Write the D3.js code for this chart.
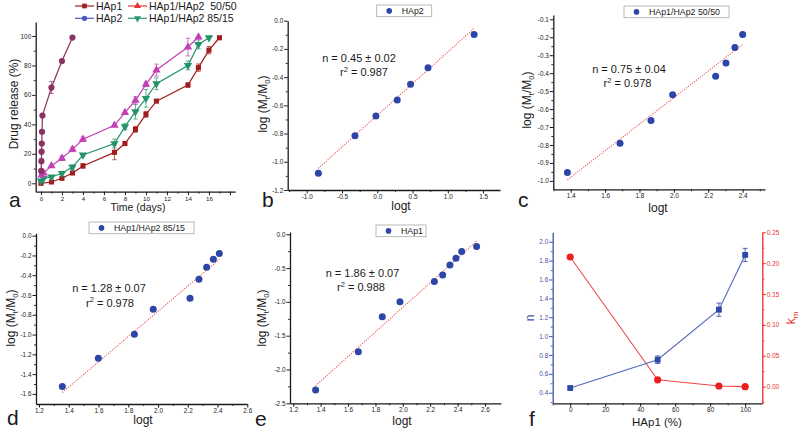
<!DOCTYPE html>
<html><head><meta charset="utf-8">
<script src="https://cdn.jsdelivr.net/npm/d3@7/dist/d3.min.js"></script>
<style>body{margin:0;background:#fff;} svg{display:block;}</style>
</head><body><svg id="chart" width="800" height="439"></svg>
<script>
const FONT = "'Liberation Sans', Arial, Helvetica, sans-serif";

// ---------- Panel a : drug release ----------
const seriesNames = ["HAp1", "HAp2", "HAp1/HAp2  50/50", "HAp1/HAp2 85/15"];
const hap1Days = [0,1,2,3,4,7,8,9,10,11,14,15,16,17];
const hap1Release = [0,0.9,3.4,7,11.8,21,27,36.6,46.8,55.8,66.7,78.5,90.4,98.8];
const hap1Err = [0.5,0.5,0.8,0.8,1.5,5,1,2,2,0.5,1.5,2.5,2.5,0.5];
const hap2Days = [0.02,0.04,0.06,0.08,0.1,0.14,1,2,3];
const hap2Release = [8.4,15,21.5,27,35,46,65,83,98.9];
const hap2Err = [1,1.5,1,1,1,1,4,1,1];
const mix50Days = [0.05,0.25,1,2,3,4,7,8,9,10,11,14,15];
const mix50Release = [5.5,7,11.8,17,23,29.9,39.4,48,56.3,67.2,76.9,92.5,99.3];
const mix50Err = [1,1,1,1.5,1.5,1.5,1,1,2.5,1.5,4,6,1];
const mix85Days = [0,0.25,1,2,3,4,7,8,9,10,11,14,15,16];
const mix85Release = [1.6,3.4,4.3,6.8,11,19.2,27,38.5,48.6,57.7,67.6,80,94.3,98.8];
const mix85Err = [0.5,0.5,0.5,1,1.5,1,3,2,5,6,4,3,3,0.5];
const aXTicks = [0,2,4,6,8,10,12,14,16,18];
const aXMinor = [1,3,5,7,9,11,13,15,17];
const aYTicks = [0,20,40,60,80,100];
const aYMinor = [10,30,50,70,90];

// ---------- Panels b–e : log(Mt/M0) vs logt ----------
const bLogt = [-0.835,-0.316,-0.019,0.283,0.472,0.72,1.373];
const bLogM = [-1.082,-0.815,-0.676,-0.562,-0.451,-0.333,-0.097];
const bFitX = [-0.835,1.373], bFitY = [-1.046,-0.054];
const cLogt = [1.381,1.687,1.867,1.993,2.243,2.303,2.355,2.4];
const cLogM = [-0.953,-0.791,-0.664,-0.520,-0.417,-0.343,-0.257,-0.184];
const cFitX = [1.381,2.4], cFitY = [-0.994,-0.24];
const dLogt = [1.357,1.599,1.841,1.968,2.215,2.275,2.327,2.372,2.412];
const dLogM = [-1.526,-1.239,-0.997,-0.744,-0.633,-0.441,-0.320,-0.239,-0.179];
const dFitX = [1.357,2.412], dFitY = [-1.586,-0.239];
const eLogt = [1.363,1.675,1.850,1.979,2.230,2.291,2.344,2.388,2.430,2.539];
const eLogM = [-2.303,-1.736,-1.218,-0.996,-0.700,-0.602,-0.454,-0.355,-0.256,-0.182];
const eFitX = [1.363,2.539], eFitY = [-2.239,-0.099];
const fitLabels = ["n = 0.45 ± 0.02","n = 0.75 ± 0.04","n = 1.28 ± 0.07","n = 1.86 ± 0.07"];
const r2Labels = ["0.987","0.978","0.978","0.988"];
const legendLabels = ["HAp2","HAp1/HAp2 50/50","HAp1/HAp2 85/15","HAp1"];
const bXTicks = [-1,-0.5,0,0.5,1,1.5], bXMinor = [-1.25,-0.75,-0.25,0.25,0.75,1.25];
const bYTicks = [0,-0.2,-0.4,-0.6,-0.8,-1.0,-1.2], bYMinor = [-0.1,-0.3,-0.5,-0.7,-0.9,-1.1];
const cXTicks = [1.4,1.6,1.8,2.0,2.2,2.4], cXMinor = [1.3,1.5,1.7,1.9,2.1,2.3,2.5];
const cYTicks = [-0.1,-0.2,-0.3,-0.4,-0.5,-0.6,-0.7,-0.8,-0.9,-1.0], cYMinor = [-0.15,-0.25,-0.35,-0.45,-0.55,-0.65,-0.75,-0.85,-0.95];
const dXTicks = [1.2,1.4,1.6,1.8,2.0,2.2,2.4,2.6], dXMinor = [1.3,1.5,1.7,1.9,2.1,2.3,2.5];
const dYTicks = [0,-0.2,-0.4,-0.6,-0.8,-1.0,-1.2,-1.4,-1.6], dYMinor = [-0.1,-0.3,-0.5,-0.7,-0.9,-1.1,-1.3,-1.5];
const eXTicks = [1.2,1.4,1.6,1.8,2.0,2.2,2.4,2.6], eXMinor = [1.3,1.5,1.7,1.9,2.1,2.3,2.5];
const eYTicks = [0,-0.5,-1.0,-1.5,-2.0,-2.5], eYMinor = [-0.25,-0.75,-1.25,-1.75,-2.25];

// ---------- Panel f ----------
const fHAp1 = [0,50,85,100];
const fN = [0.45,0.75,1.28,1.86];
const fNErr = [0.01,0.04,0.07,0.07];
const fKm = [0.21,0.011,0.001,0.0];
const fXTicks = [0,20,40,60,80,100], fXMinor = [-10,10,30,50,70,90];
const fNTicks = [0.4,0.6,0.8,1.0,1.2,1.4,1.6,1.8,2.0], fNMinor = [0.3,0.5,0.7,0.9,1.1,1.3,1.5,1.7,1.9];
const fKTicks = [0,0.05,0.10,0.15,0.20,0.25], fKMinor = [-0.025,0.025,0.075,0.125,0.175,0.225];

const svg = d3.select('#chart');
const hy = s => s.replace('\u2212','-');
const f1 = d => hy(d3.format('.1f')(d));

function axis(g, scale, orient, pos, majors, minors, fmt, color, fs) {
  const gen = orient === 'bottom' ? d3.axisBottom : orient === 'left' ? d3.axisLeft : d3.axisRight;
  const tr = orient === 'bottom' ? `translate(0,${pos})` : `translate(${pos},0)`;
  const m = g.append('g').attr('transform', tr)
    .call(gen(scale).tickValues(minors).tickSize(2).tickSizeOuter(0).tickFormat(''));
  m.select('.domain').remove();
  m.selectAll('line').attr('stroke', color).attr('stroke-width', 0.9);
  const M = g.append('g').attr('transform', tr)
    .call(gen(scale).tickValues(majors).tickSize(3.5).tickSizeOuter(0).tickPadding(1).tickFormat(fmt));
  M.selectAll('line').attr('stroke', color).attr('stroke-width', 1);
  M.select('.domain').attr('stroke', color).attr('stroke-width', 1.3);
  M.selectAll('text').attr('fill', color).attr('font-size', fs).attr('font-family', FONT);
}

function txt(x, y, s, size, opts = {}) {
  return svg.append('text').attr('x', x).attr('y', y).text(s)
    .attr('font-family', FONT).attr('font-size', size)
    .attr('fill', opts.fill || '#1a1a1a')
    .attr('text-anchor', opts.anchor || 'start')
    .style('white-space', 'pre');
}

function logLabel(cx, cy, size) {
  const t = svg.append('text').attr('transform', `translate(${cx},${cy}) rotate(-90)`)
    .attr('text-anchor', 'middle').attr('dy', '0.35em')
    .attr('font-family', FONT).attr('font-size', size).attr('fill', '#1a1a1a');
  t.append('tspan').text('log (M');
  t.append('tspan').text('t').attr('font-size', size * 0.65).attr('dy', 3);
  t.append('tspan').text('/M').attr('dy', -3);
  t.append('tspan').text('0').attr('font-size', size * 0.65).attr('dy', 3);
  t.append('tspan').text(')').attr('dy', -3);
}

// ================= Panel a =================
{
  const g = svg.append('g');
  const x = d3.scaleLinear().domain([-0.5, 18.5]).range([35.7, 235.2]);
  const y = d3.scaleLinear().domain([-5.7, 109.5]).range([191.7, 22]);
  axis(g, x, 'bottom', 191.7, aXTicks, aXMinor, d => d <= 16 ? d : '', '#1a1a1a', 6.2);
  axis(g, y, 'left', 35.7, aYTicks, aYMinor, d => d, '#1a1a1a', 6.4);
  const series = [
    {t: hap1Days, v: hap1Release, e: hap1Err, c: '#a11d1d', sym: d3.symbolSquare, size: 26, rot: 0},
    {t: mix85Days, v: mix85Release, e: mix85Err, c: '#22936a', sym: d3.symbolTriangle, size: 30, rot: 180},
    {t: mix50Days, v: mix50Release, e: mix50Err, c: '#c23fb4', sym: d3.symbolTriangle, size: 30, rot: 0},
    {t: hap2Days, v: hap2Release, e: hap2Err, c: '#8b3262', sym: d3.symbolCircle, size: 30, rot: 0},
  ];
  const line = d3.line().x(d => x(d[0])).y(d => y(d[1]));
  series.forEach(s => {
    const pts = s.t.map((t, i) => [t, s.v[i], s.e[i]]);
    g.append('path').attr('d', line(pts)).attr('fill', 'none').attr('stroke', s.c).attr('stroke-width', 1.2);
    const eb = g.append('g').attr('stroke', s.c).attr('stroke-width', 0.9).attr('opacity', 0.8);
    pts.forEach(p => {
      if (p[2] < 1.2) return;
      const X = x(p[0]);
      eb.append('line').attr('x1', X).attr('x2', X).attr('y1', y(p[1] - p[2])).attr('y2', y(p[1] + p[2]));
      [p[1] - p[2], p[1] + p[2]].forEach(v => eb.append('line').attr('x1', X - 2.2).attr('x2', X + 2.2).attr('y1', y(v)).attr('y2', y(v)));
    });
    g.selectAll(null).data(pts).enter().append('path')
      .attr('d', d3.symbol().type(s.sym).size(s.size))
      .attr('transform', d => `translate(${x(d[0])},${y(d[1])}) rotate(${s.rot})`)
      .attr('fill', s.c);
  });
  // legend
  const leg = [
    {name: seriesNames[0], c: '#a11d1d', sym: d3.symbolSquare, rot: 0, x0: 75, yy: 6},
    {name: seriesNames[1], c: '#4a58c4', sym: d3.symbolCircle, rot: 0, x0: 75, yy: 18.3},
    {name: seriesNames[2], c: '#e83434', sym: d3.symbolTriangle, rot: 0, x0: 128, yy: 6},
    {name: seriesNames[3], c: '#2a9a6e', sym: d3.symbolTriangle, rot: 180, x0: 128, yy: 18.3},
  ];
  leg.forEach(l => {
    svg.append('line').attr('x1', l.x0).attr('x2', l.x0 + 19).attr('y1', l.yy).attr('y2', l.yy).attr('stroke', l.c).attr('stroke-width', 1.2);
    svg.append('path').attr('d', d3.symbol().type(l.sym).size(22)()).attr('transform', `translate(${l.x0 + 9.5},${l.yy}) rotate(${l.rot})`).attr('fill', l.c);
    txt(l.x0 + 21, l.yy + 3.6, l.name, 10.5);
  });
  svg.append('text').attr('transform', 'translate(14,104) rotate(-90)').attr('text-anchor', 'middle').attr('dy', '0.35em')
    .attr('font-family', FONT).attr('font-size', 12).attr('fill', '#1a1a1a').text('Drug release (%)');
  txt(138, 211, 'Time (days)', 10.5, {anchor: 'middle'});
  txt(9, 207, 'a', 21);
}

// ================= Panels b–e =================
function fitPanel(p) {
  const g = svg.append('g');
  const x = d3.scaleLinear().domain(p.xd).range([p.left, p.right]);
  const y = d3.scaleLinear().domain(p.yd).range([p.bottom, p.top]);
  axis(g, x, 'bottom', p.bottom, p.xt, p.xm, f1, '#1a1a1a', 6.4);
  axis(g, y, 'left', p.left, p.yt, p.ym, f1, '#1a1a1a', 6.4);
  g.append('line').attr('x1', x(p.fx[0])).attr('y1', y(p.fy[0])).attr('x2', x(p.fx[1])).attr('y2', y(p.fy[1]))
    .attr('stroke', '#f25a5a').attr('stroke-width', 1.1).attr('stroke-dasharray', '1.2,1.3');
  g.selectAll(null).data(p.xs.map((v, i) => [v, p.ys[i]])).enter().append('circle')
    .attr('cx', d => x(d[0])).attr('cy', d => y(d[1])).attr('r', 3.5).attr('fill', '#2b46a6');
  // legend
  svg.append('rect').attr('x', p.lg[0]).attr('y', p.lg[1]).attr('width', p.lg[2]).attr('height', 11.7)
    .attr('fill', '#fff').attr('stroke', '#a8a8a8').attr('stroke-width', 0.8);
  svg.append('circle').attr('cx', p.lg[0] + 12.5).attr('cy', p.lg[1] + 5.9).attr('r', 2.8).attr('fill', '#2b46a6');
  txt(p.lg[0] + 25, p.lg[1] + 9.2, p.name, 8.8);
  // annotations
  txt(p.ann[0], p.ann[1], p.n, 11, {anchor: 'middle'});
  const r = svg.append('text').attr('x', p.ann[2]).attr('y', p.ann[3]).attr('text-anchor', 'middle')
    .attr('font-family', FONT).attr('font-size', 11).attr('fill', '#1a1a1a');
  r.append('tspan').text('r');
  r.append('tspan').text('2').attr('font-size', 7.5).attr('dy', -4.5);
  r.append('tspan').text(' = ' + p.r2).attr('dy', 4.5);
  logLabel(p.ylab[0], p.ylab[1], 12);
  txt(p.xlab[0], p.xlab[1], 'logt', 12, {anchor: 'middle'});
  txt(p.letter[0], p.letter[1], p.letter[2], 21);
}

fitPanel({left: 287.7, right: 500, top: 20.7, bottom: 190, xd: [-1.27, 1.74], yd: [-1.2, 0],
  xt: bXTicks, xm: bXMinor, yt: bYTicks, ym: bYMinor, xs: bLogt, ys: bLogM, fx: bFitX, fy: bFitY,
  lg: [376.7, 5, 55], name: legendLabels[0], n: fitLabels[0], r2: r2Labels[0], ann: [359, 61.7, 364, 76],
  ylab: [263, 104], xlab: [401, 210], letter: [262, 207, 'b']});
fitPanel({left: 553.3, right: 765, top: 15, bottom: 189.3, xd: [1.299, 2.53], yd: [-1.047, -0.076],
  xt: cXTicks, xm: cXMinor, yt: cYTicks, ym: cYMinor, xs: cLogt, ys: cLogM, fx: cFitX, fy: cFitY,
  lg: [624, 6, 105], name: legendLabels[1], n: fitLabels[1], r2: r2Labels[1], ann: [629, 73, 627.5, 87],
  ylab: [527, 100], xlab: [658, 211.5], letter: [518, 207, 'c']});
fitPanel({left: 36, right: 247, top: 233.3, bottom: 404, xd: [1.18, 2.598], yd: [-1.702, 0.024],
  xt: dXTicks, xm: dXMinor, yt: dYTicks, ym: dYMinor, xs: dLogt, ys: dLogM, fx: dFitX, fy: dFitY,
  lg: [89, 222, 105], name: legendLabels[2], n: fitLabels[2], r2: r2Labels[2], ann: [109, 291.7, 110, 306.7],
  ylab: [11, 318], xlab: [143, 424], letter: [7, 425, 'd']});
fitPanel({left: 290, right: 501, top: 232, bottom: 403.3, xd: [1.176, 2.717], yd: [-2.5, 0.034],
  xt: eXTicks, xm: eXMinor, yt: eYTicks, ym: eYMinor, xs: eLogt, ys: eLogM, fx: eFitX, fy: eFitY,
  lg: [376, 225, 50], name: legendLabels[3], n: fitLabels[3], r2: r2Labels[3], ann: [362.5, 276.7, 361, 291],
  ylab: [262, 318], xlab: [402, 425], letter: [255, 426, 'e']});

// ================= Panel f =================
{
  const g = svg.append('g');
  const blue = '#3f52aa', red = '#ea2e2e';
  const x = d3.scaleLinear().domain([-10, 109.8]).range([552.7, 762.3]);
  const yn = d3.scaleLinear().domain([0.288, 2.1]).range([403.3, 232.3]);
  const yk = d3.scaleLinear().domain([-0.027, 0.25]).range([403.3, 232.3]);
  axis(g, x, 'bottom', 403.3, fXTicks, fXMinor, d => d, '#1a1a1a', 6.4);
  axis(g, yn, 'left', 552.7, fNTicks, fNMinor, f1, blue, 6.4);
  axis(g, yk, 'right', 762.3, fKTicks, fKMinor, d => d3.format('.2f')(d), red, 6.4);
  const ln = d3.line().x(d => x(d[0])).y(d => d[1]);
  g.append('path').attr('d', ln(fHAp1.map((v, i) => [v, yk(fKm[i])]))).attr('fill', 'none').attr('stroke', '#f04848').attr('stroke-width', 1.1);
  g.append('path').attr('d', ln(fHAp1.map((v, i) => [v, yn(fN[i])]))).attr('fill', 'none').attr('stroke', '#5566bb').attr('stroke-width', 1.1);
  fHAp1.forEach((v, i) => {
    const X = x(v);
    if (fNErr[i] > 0.02) {
      g.append('line').attr('x1', X).attr('x2', X).attr('y1', yn(fN[i] - fNErr[i])).attr('y2', yn(fN[i] + fNErr[i])).attr('stroke', blue).attr('stroke-width', 0.9);
      [fN[i] - fNErr[i], fN[i] + fNErr[i]].forEach(w => g.append('line').attr('x1', X - 2.5).attr('x2', X + 2.5).attr('y1', yn(w)).attr('y2', yn(w)).attr('stroke', blue).attr('stroke-width', 0.9));
    }
    g.append('path').attr('d', d3.symbol().type(d3.symbolSquare).size(34)()).attr('transform', `translate(${X},${yn(fN[i])})`).attr('fill', '#2d48a8');
    g.append('circle').attr('cx', X).attr('cy', yk(fKm[i])).attr('r', 3.6).attr('fill', '#ec1f1f');
  });
  txt(657, 426, 'HAp1 (%)', 11.5, {anchor: 'middle'});
  svg.append('text').attr('transform', 'translate(530,318) rotate(-90)').attr('text-anchor', 'middle').attr('dy', '0.35em')
    .attr('font-family', FONT).attr('font-size', 12).attr('fill', blue).text('n');
  const k = svg.append('text').attr('transform', 'translate(791,318) rotate(-90)').attr('text-anchor', 'middle').attr('dy', '0.35em')
    .attr('font-family', FONT).attr('font-size', 12).attr('fill', red);
  k.append('tspan').text('k');
  k.append('tspan').text('m').attr('font-size', 8).attr('dy', 3);
  txt(529, 426, 'f', 21);
}
</script></body></html>
